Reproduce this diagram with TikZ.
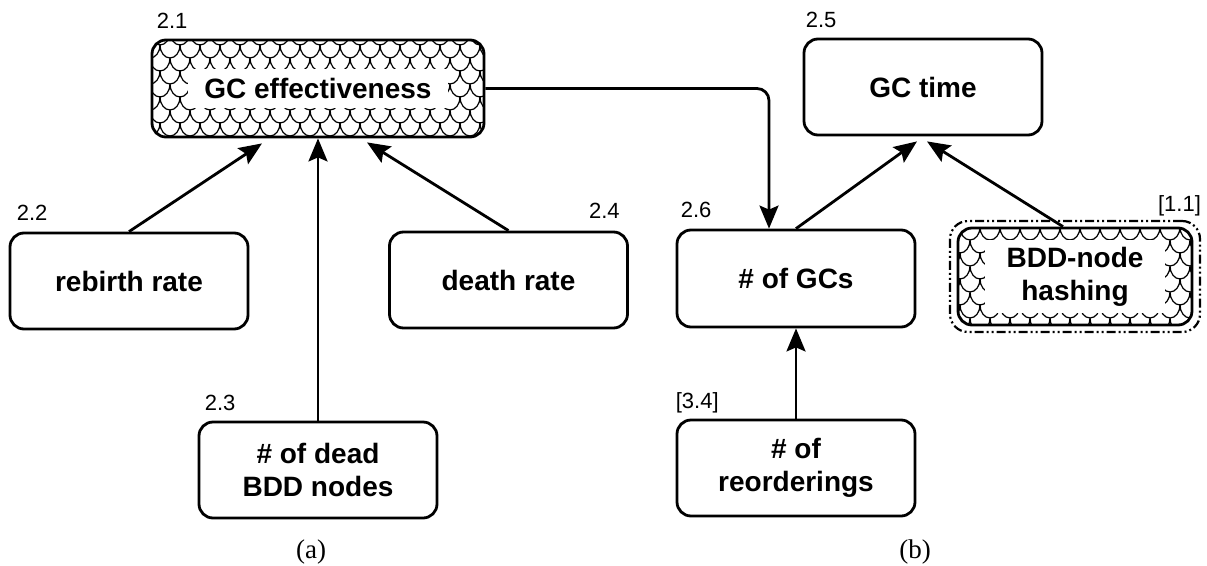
\documentclass[tikz,border=0pt]{standalone}
\usepackage{fontspec}
\setmainfont{Liberation Serif}
\setsansfont{Liberation Sans}
\usetikzlibrary{arrows.meta,patterns}

% fish-scale fill: rows of cup-shaped arcs, each row shifted by half a scale
\pgfdeclarepatternformonly{scales}{\pgfpoint{-1pt}{-1pt}}{\pgfpoint{21pt}{27pt}}{\pgfpoint{20pt}{26pt}}{%
  \pgfsetlinewidth{1.2pt}%
  \pgfpathmoveto{\pgfpoint{0pt}{26pt}}%
  \pgfpatharc{180}{360}{10pt and 13pt}%
  \pgfpathmoveto{\pgfpoint{-10pt}{13pt}}%
  \pgfpatharc{180}{360}{10pt and 13pt}%
  \pgfpathmoveto{\pgfpoint{10pt}{13pt}}%
  \pgfpatharc{180}{360}{10pt and 13pt}%
  \pgfusepath{stroke}%
}

\begin{document}
\begin{tikzpicture}[x=1pt,y=-1pt,
  box/.style={draw, line width=2.8pt, rounded corners=14pt,
    minimum width=238pt, minimum height=96pt, inner sep=0pt, align=center,
    font=\sffamily\bfseries\fontsize{28}{33}\selectfont},
  scaled/.style={box, pattern=scales},
  textpatch/.style={fill=white, align=center,
    font=\sffamily\bfseries\fontsize{28}{33}\selectfont},
  num/.style={font=\sffamily\fontsize{22}{26}\selectfont, inner sep=0pt},
  capt/.style={font=\rmfamily\fontsize{27}{32}\selectfont, inner sep=0pt},
  arr/.style={line width=2.8pt, -{Stealth[length=23pt,width=19pt,inset=4pt]}},
  dashdot/.style={draw, line width=2.2pt, rounded corners=18pt,
    dash pattern=on 9pt off 3pt on 2pt off 3pt on 2pt off 3pt}
]
\useasboundingbox (0,0) rectangle (1207,565);

% ---------- (a) ----------
\node[scaled, minimum width=332pt, minimum height=97pt] (gce) at (318,88.5) {};
\node[textpatch, inner xsep=16pt, inner ysep=9pt] (gcet) at (gce.center) {GC effectiveness};
\node[box] (rebirth) at (129,281) {rebirth rate};
\node[box] (death) at (508.5,280) {death rate};
\node[box] (dead) at (318,470) {\# of dead\\BDD nodes};

\node[num, anchor=base west] (n21) at ([xshift=6pt,yshift=10pt]gce.north west) {2.1};
\node[num, anchor=base west] (n22) at ([xshift=8pt,yshift=11pt]rebirth.north west) {2.2};
\node[num, anchor=base east] (n24) at ([xshift=-9pt,yshift=12pt]death.north east) {2.4};
\node[num, anchor=base west] (n23) at ([xshift=7pt,yshift=10pt]dead.north west) {2.3};

\coordinate (ta) at ([xshift=-56pt,yshift=-5pt]gce.south);
\coordinate (tb) at ([xshift=49pt,yshift=-4pt]gce.south);
\draw[arr] (rebirth.north) -- (ta);
\draw[arr] (dead.north) -- (gce.south);
\draw[arr] (death.north) -- (tb);

\node[capt] (capa) at (311,552) {(a)};

% ---------- (b) ----------
\node[box] (gct) at (923,87) {GC time};
\node[box, minimum height=97pt] (gcs) at (796,278.5) {\# of GCs};
\node[box] (reord) at (796,468) {\# of\\reorderings};
\node[scaled, minimum width=234pt, minimum height=97pt] (bdd) at (1075,276.5) {};
\node[dashdot, minimum width=250pt, minimum height=111pt] (bddo) at (bdd.center) {};
\node[textpatch, inner xsep=22pt, inner ysep=7pt] (bddt) at (bdd.center) {BDD-node\\hashing};

\node[num, anchor=base west] (n25) at ([xshift=3pt,yshift=10pt]gct.north west) {2.5};
\node[num, anchor=base west] (n26) at ([xshift=5pt,yshift=11pt]gcs.north west) {2.6};
\node[num, anchor=base west] (n34) at ([xshift=0pt,yshift=10pt]reord.north west) {[3.4]};
\node[num, anchor=base east] (n11) at ([xshift=0pt,yshift=8pt]bddo.north east) {[1.1]};

\coordinate (gcsin) at ([xshift=-27pt]gcs.north);
\coordinate (bddout) at ([xshift=-12pt]bdd.north);
\coordinate (tc) at ([xshift=-6pt,yshift=-5pt]gct.south);
\coordinate (td) at ([xshift=4pt,yshift=-5pt]gct.south);
\draw[arr, rounded corners=12pt] (gce.east) -- (gce.east -| gcsin) -- (gcsin);
\draw[arr] (gcs.north) -- (tc);
\draw[arr] (bddout) -- (td);
\draw[arr] (reord.north) -- (gcs.south);

\node[capt] (capb) at (915,552) {(b)};
\end{tikzpicture}
\end{document}
